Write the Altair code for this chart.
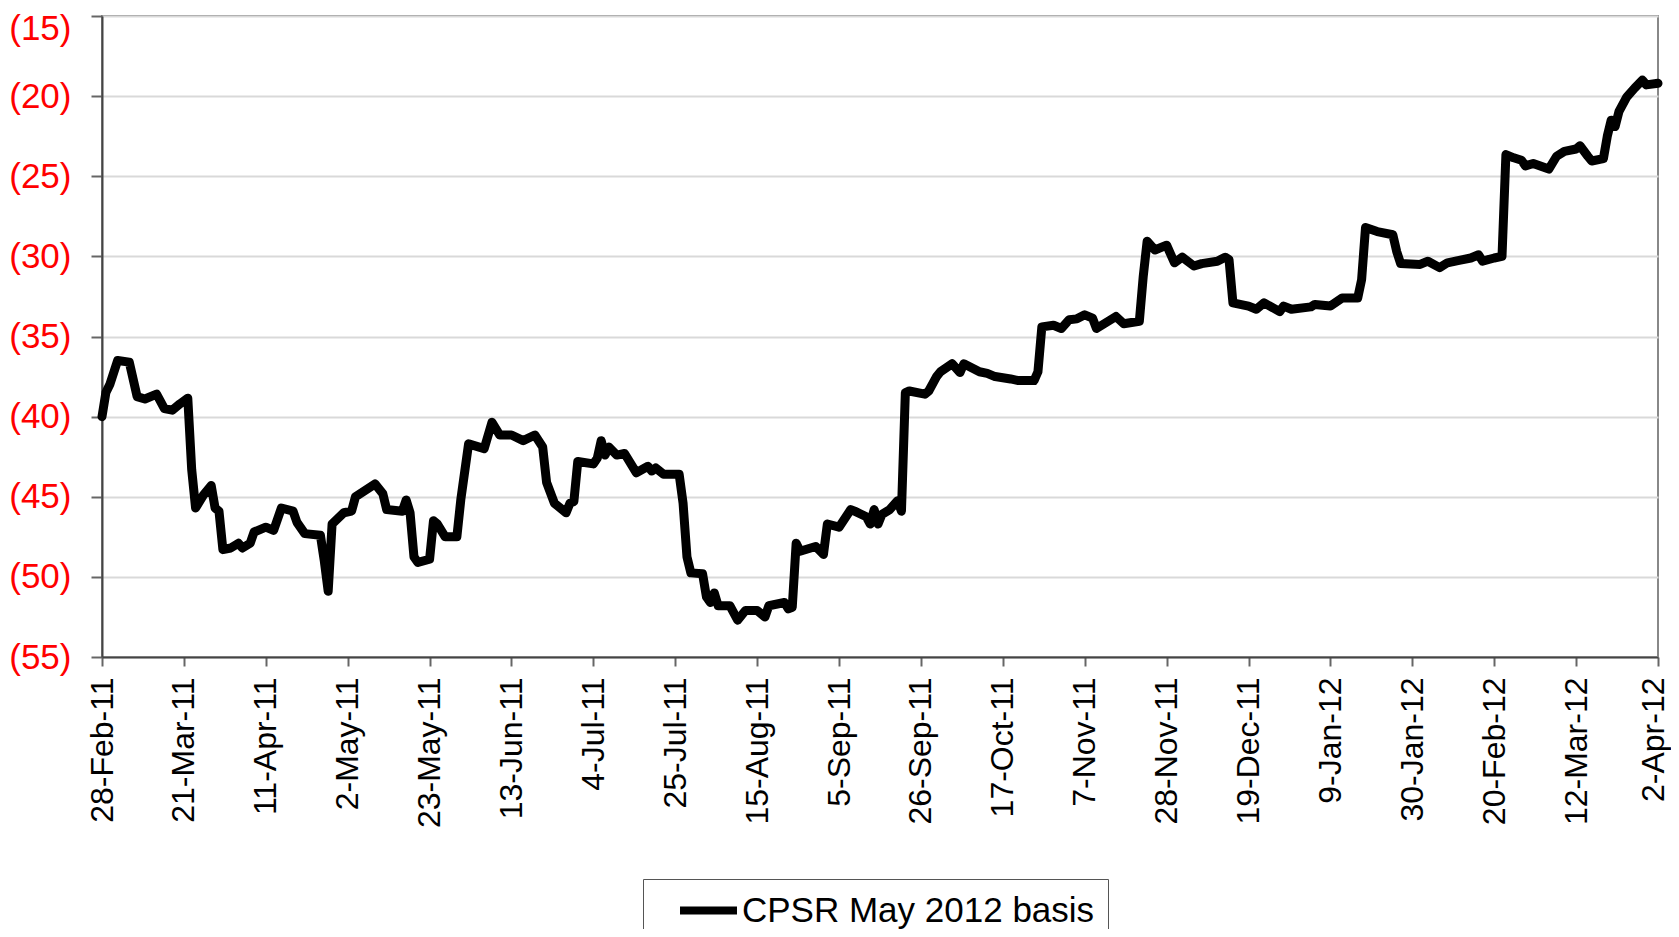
import altair as alt
import pandas as pd
from datetime import date, timedelta

# ---- data ----
start_date = date(2011, 2, 28)
series_name = "CPSR May 2012 basis"

# day offsets from 28-Feb-2011
day_offsets = [
    0, 1, 2, 4, 7, 9, 11, 14, 16, 18, 20, 22, 23, 24, 26, 28, 29, 30, 31, 33,
    35, 36, 38, 39, 42, 44, 46, 49, 50, 52, 56, 57, 58, 59, 62, 64, 65, 70, 72, 73,
    77, 78, 79, 80, 81, 84, 85, 86, 88, 91, 92, 94, 98, 100, 102, 105, 108, 111, 113, 114,
    116, 119, 120, 121, 122, 126, 127, 128, 129, 130, 132, 134, 137, 140, 141, 142, 144, 148, 149, 150,
    151, 154, 155, 156, 157, 158, 161, 163, 165, 168, 170, 171, 175, 176, 177, 178, 179, 183, 185, 186,
    189, 192, 193, 196, 197, 198, 199, 200, 202, 204, 205, 206, 207, 211, 212, 214, 215, 218, 220, 221,
    225, 227, 229, 233, 235, 239, 240, 241, 244, 246, 248, 250, 252, 254, 255, 260, 262, 266, 267, 268,
    270, 273, 275, 277, 280, 282, 286, 288, 289, 290, 294, 296, 298, 302, 303, 305, 310, 311, 315, 318,
    322, 323, 324, 327, 331, 332, 333, 338, 340, 343, 345, 348, 351, 353, 354, 357, 359, 360, 362, 364,
    365, 367, 371, 373, 375, 378, 379, 381, 382, 385, 386, 387, 388, 389, 391, 393, 395, 396, 399,
]

spread_values = [
    -40.0, -38.5, -38.0, -36.5, -36.6, -38.75, -38.9, -38.6, -39.5, -39.6, -39.2, -38.85, -43.3, -45.7, -44.9, -44.3, -45.7, -45.9, -48.3, -48.2,
    -47.9, -48.2, -47.9, -47.2, -46.9, -47.1, -45.7, -45.9, -46.6, -47.3, -47.4, -49.0, -50.9, -46.7, -46.0, -45.9, -45.0, -44.2, -44.8, -45.8,
    -45.9, -45.2, -46.0, -48.75, -49.1, -48.9, -46.5, -46.7, -47.5, -47.5, -45.2, -41.7, -42.0, -40.35, -41.15, -41.15, -41.5, -41.15, -41.9, -44.1,
    -45.4, -46.0, -45.4, -45.3, -42.8, -42.95, -42.6, -41.5, -42.4, -41.9, -42.4, -42.3, -43.5, -43.1, -43.4, -43.2, -43.6, -43.6, -45.4, -48.75,
    -49.75, -49.8, -51.25, -51.6, -51.0, -51.8, -51.8, -52.7, -52.1, -52.1, -52.5, -51.8, -51.6, -52.0, -51.9, -47.9, -48.4, -48.1, -48.6, -46.7,
    -46.9, -45.8, -45.9, -46.25, -46.7, -45.8, -46.7, -46.1, -45.8, -45.25, -45.9, -38.5, -38.4, -38.6, -38.4, -37.5, -37.2, -36.7, -37.25, -36.7,
    -37.2, -37.3, -37.5, -37.65, -37.75, -37.75, -37.2, -34.4, -34.3, -34.5, -33.95, -33.9, -33.65, -33.85, -34.5, -33.75, -34.2, -34.05, -31.25, -29.05,
    -29.6, -29.3, -30.4, -30.05, -30.6, -30.45, -30.3, -30.05, -30.2, -32.9, -33.1, -33.3, -32.9, -33.45, -33.1, -33.3, -33.15, -33.0, -33.1, -32.6,
    -32.6, -31.45, -28.2, -28.45, -28.65, -29.7, -30.45, -30.5, -30.3, -30.7, -30.4, -30.25, -30.1, -29.9, -30.3, -30.1, -30.0, -23.65, -23.85, -24.0,
    -24.35, -24.2, -24.55, -23.75, -23.45, -23.3, -23.1, -23.75, -24.05, -23.9, -22.5, -21.5, -21.9, -20.95, -20.05, -19.5, -19.0, -19.3, -19.2,
]

# x tick labels every 21 days from 28-Feb-11 to 2-Apr-12
x_tick_offsets = list(range(0, 400, 21))
y_tick_values = [-55, -50, -45, -40, -35, -30, -25, -20, -15]

# ---- build table ----
dates = [(start_date + timedelta(days=d)).isoformat() + "T00:00:00" for d in day_offsets]
df = pd.DataFrame({
    "date": dates,
    "value": spread_values,
    "idx": list(range(len(spread_values))),
    "series": [series_name] * len(spread_values),
})


def dt(d):
    return alt.DateTime(year=d.year, month=d.month, date=d.day)


x_ticks = [dt(start_date + timedelta(days=o)) for o in x_tick_offsets]
x_domain = [dt(start_date), dt(start_date + timedelta(days=399))]

FONT = "Liberation Sans"

chart = (
    alt.Chart(df)
    .mark_line(strokeWidth=9, strokeJoin="round", strokeCap="round")
    .encode(
        x=alt.X(
            "date:T",
            scale=alt.Scale(domain=x_domain, nice=False),
            axis=alt.Axis(
                values=x_ticks,
                format="%-d-%b-%y",
                labelAngle=270,
                labelAlign="right",
                labelBaseline="middle",
                labelFont=FONT,
                labelFontSize=32,
                labelColor="#000000",
                labelPadding=11,
                labelOffset={"condition": {"test": "datum.value > datetime(2012, 2, 20)", "value": -5}, "value": 0},
                labelOverlap=False,
                labelFlush=False,
                grid=False,
                title=None,
                tickSize=9,
                tickWidth=2,
                tickColor="#666666",
                domainColor="#444444",
                domainWidth=2,
            ),
        ),
        y=alt.Y(
            "value:Q",
            scale=alt.Scale(domain=[-55, -15], nice=False, zero=False),
            axis=alt.Axis(
                values=y_tick_values,
                labelExpr="'(' + abs(datum.value) + ')'",
                labelFont=FONT,
                labelFontSize=35,
                labelColor="#ff0000",
                labelPadding=20,
                labelOffset={"condition": {"test": "datum.value == -15", "value": 12}, "value": 0},
                labelOverlap=False,
                labelFlush=False,
                grid=True,
                gridColor="#d9d9d9",
                gridWidth=2,
                title=None,
                tickSize=11,
                tickWidth=2,
                tickColor="#666666",
                domainColor="#444444",
                domainWidth=2,
            ),
        ),
        color=alt.Color(
            "series:N",
            scale=alt.Scale(range=["#000000"]),
            legend=alt.Legend(
                title=None,
                orient="none",
                legendX=541,
                legendY=863,
                symbolType="M-2,0H2",
                symbolSize=812,
                symbolStrokeWidth=8,
                symbolOffset=34,
                labelOffset=15,
                labelFont=FONT,
                labelFontSize=35,
                labelColor="#000000",
                labelLimit=1000,
                padding=13,
                strokeColor="#555555",
                fillColor="#ffffff",
            ),
        ),
        order=alt.Order("idx:Q"),
    )
    .properties(
        width=1556,
        height=641,
        autosize=alt.AutoSizeParams(type="none"),
        padding={"left": 94, "top": 8, "right": 13, "bottom": 272},
    )
    .configure_view(stroke="#888888", strokeWidth=2)
)

chart.save("out.html", embed_options={"renderer": "svg", "actions": False})
